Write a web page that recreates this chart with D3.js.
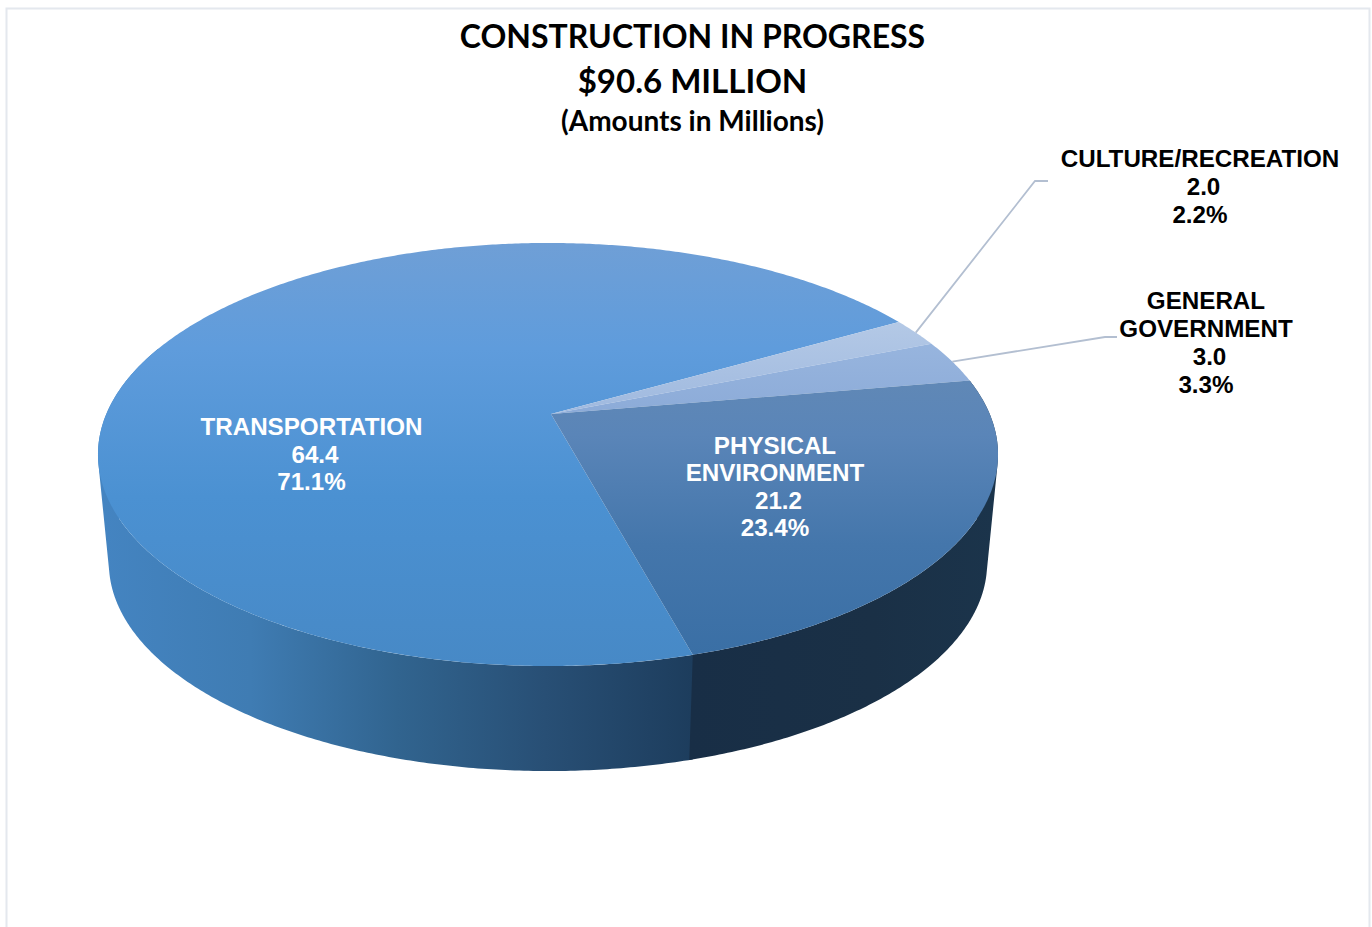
<!DOCTYPE html>
<html>
<head>
<meta charset="utf-8">
<title>Construction in Progress</title>
<script src="https://cdn.jsdelivr.net/npm/d3@7"></script>
<style>
  html, body { margin: 0; padding: 0; background: #fff; overflow: hidden; }
  svg { display: block; }
</style>
</head>
<body>
<svg id="chart" width="1372" height="927"></svg>
<script>
// Chart content
const titleLines = ["CONSTRUCTION IN PROGRESS", "$90.6 MILLION", "(Amounts in Millions)"];
const categories = ["TRANSPORTATION", "CULTURE/RECREATION", "GENERAL GOVERNMENT", "PHYSICAL ENVIRONMENT"];
const values = [64.4, 2.0, 3.0, 21.2];
const nameLines = [["TRANSPORTATION"], ["CULTURE/RECREATION"], ["GENERAL", "GOVERNMENT"], ["PHYSICAL", "ENVIRONMENT"]];

// Styling, one entry per category
const topStops = [
  [[0, "#6f9fd6"], [0.25, "#5f9cdc"], [0.6, "#4b91d2"], [1, "#4789c6"]],
  [[0, "#b4c9e6"], [1, "#9fb9df"]],
  [[0, "#9bb8e0"], [1, "#8cabd8"]],
  [[0, "#6088b6"], [0.2, "#5a85b8"], [0.6, "#4476ab"], [1, "#3a6fa5"]]
];
const wallStops = [
  [[0, "#4484c1"], [0.25, "#3f7cb3"], [0.5, "#31648f"], [0.75, "#284f75"], [1, "#1d3d5d"]],
  [[0, "#1b3249"], [1, "#1b3249"]],
  [[0, "#1b3249"], [1, "#1b3249"]],
  [[0, "#182e46"], [0.6, "#1a3046"], [1, "#1b344b"]]
];
const labelColors = ["#ffffff", "#000000", "#000000", "#ffffff"];
const labelCenters = [[311.5, 435], [1200, 167], [1206, 308.5], [775, 454]];
const labelLineGap = [27.6, 28, 28.2, 27.4];
const valueNudge = 3.5;
const leaderElbows = [null, [[1035, 181], [1048, 181]], [[1105, 337], [1117, 337]], null];

const svg = d3.select("#chart");
const defs = svg.append("defs");

const total = d3.sum(values);
const rad = d => d * Math.PI / 180;
const firstSliceStart = 164.5;

// Clockwise slices measured from the far side of the disc
const pie = d3.pie().sort(null)
  .startAngle(rad(firstSliceStart))
  .endAngle(rad(firstSliceStart + 360));
const slices = pie(values);

// Perspective scales for the top face and the lower rim of the disc
const centerX = 548;
const perspective = -0.1915;
const project = (xScale, yScale) => a => {
  const u = Math.sin(a), v = -Math.cos(a), w = 1 + perspective * v;
  return [centerX + xScale(u) / w, yScale(v) / w];
};
const topFace = project(d3.scaleLinear().domain([-1, 1]).range([-441.7, 441.7]),
                        d3.scaleLinear().domain([-1, 1]).range([289.5, 538.5]));
const rim = project(d3.scaleLinear().domain([-1, 1]).range([-431, 431]),
                    d3.scaleLinear().domain([-1, 1]).range([423, 623.4]));

const arcSamples = (a0, a1) => {
  const n = Math.max(2, Math.ceil(Math.abs(a1 - a0) / rad(0.5)));
  return d3.range(n + 1).map(i => a0 + (a1 - a0) * i / n);
};
const line = d3.line().curve(d3.curveLinear);

function addGradient(id, stops, x1, y1, x2, y2) {
  const g = defs.append("linearGradient").attr("id", id)
    .attr("gradientUnits", "userSpaceOnUse")
    .attr("x1", x1).attr("y1", y1).attr("x2", x2).attr("y2", y2);
  stops.forEach(s => g.append("stop").attr("offset", s[0]).attr("stop-color", s[1]));
}
topStops.forEach((s, i) => {
  const isLarge = i === 0;
  addGradient("top" + i, s, 0, isLarge ? 243 : (i === 3 ? 380 : 320), 0, isLarge ? 666 : (i === 3 ? 655 : 415));
});
wallStops.forEach((s, i) => {
  const x0 = i === 0 ? 103 : 690, x1 = i === 0 ? 692 : 995;
  addGradient("wall" + i, s, x0, 0, x1, 0);
});

// Frame of the chart area, open past the lower page edge
svg.append("path")
  .attr("d", "M6.5,940V8.5H1369.5V940")
  .attr("fill", "none").attr("stroke", "#e4e8ee").attr("stroke-width", 2);

// Outer wall: one quad per angular step, all wound the same way so that the
// silhouette between the top face and the rim is filled without seams.
// The first wall runs a little under the next one to hide their shared edge.
const wallFrom = rad(70), wallTo = rad(290), seamOverlap = rad(0.4);
const tau = 2 * Math.PI;
const wallGroup = svg.append("g");
[0, 3].forEach(i => {
  const s = slices[i];
  const shift = s.startAngle >= tau ? tau : 0;
  const a0 = Math.max(s.startAngle - shift - (i === 0 ? seamOverlap : 0), wallFrom);
  const a1 = Math.min(s.endAngle - shift, wallTo);
  const angles = arcSamples(a0, a1);
  const d = d3.pairs(angles).map(([p, q]) => {
    const quad = [topFace(p), topFace(q), rim(q), rim(p)];
    if (d3.polygonArea(quad) < 0) quad.reverse();
    return line(quad) + "Z";
  }).join("");
  wallGroup.append("path").attr("d", d).attr("fill", `url(#wall${i})`);
});

// Top face
svg.append("g").selectAll("path").data(slices).join("path")
  .attr("d", d => {
    const pts = [[centerX + 3, 414]].concat(arcSamples(d.startAngle, d.endAngle).map(topFace));
    return line(pts) + "Z";
  })
  .attr("fill", (d, i) => `url(#top${i})`);

// Leader lines from the slice edge to the outside labels
svg.append("g").selectAll("path").data(slices.filter((d, i) => leaderElbows[i])).join("path")
  .attr("d", d => line([topFace((d.startAngle + d.endAngle) / 2)].concat(leaderElbows[d.index])))
  .attr("fill", "none").attr("stroke", "#b3bfd1").attr("stroke-width", 1.8);

// Title block
const titleY = [48, 93, 131];
const titleSize = [32, 33, 28];
svg.append("g").selectAll("text").data(titleLines).join("text")
  .attr("x", 692.5)
  .attr("y", (d, i) => titleY[i])
  .attr("text-anchor", "middle")
  .attr("font-family", "Lato, 'Open Sans', sans-serif")
  .attr("font-weight", 700)
  .attr("font-size", (d, i) => titleSize[i])
  .attr("fill", "#000")
  .text(d => d);

// Category, amount and share labels
const labels = svg.append("g")
  .attr("font-family", "'Liberation Sans', Arial, sans-serif")
  .attr("font-weight", 700)
  .attr("font-size", 24.2)
  .attr("text-anchor", "middle");
categories.forEach((c, i) => {
  const rows = nameLines[i].concat([values[i].toFixed(1), (values[i] / total * 100).toFixed(1) + "%"]);
  const valueRow = nameLines[i].length;
  labels.append("g").selectAll("text").data(rows).join("text")
    .attr("x", (d, r) => labelCenters[i][0] + (r === valueRow ? valueNudge : 0))
    .attr("y", (d, r) => labelCenters[i][1] + r * labelLineGap[i])
    .attr("fill", labelColors[i])
    .text(d => d);
});
</script>
</body>
</html>
